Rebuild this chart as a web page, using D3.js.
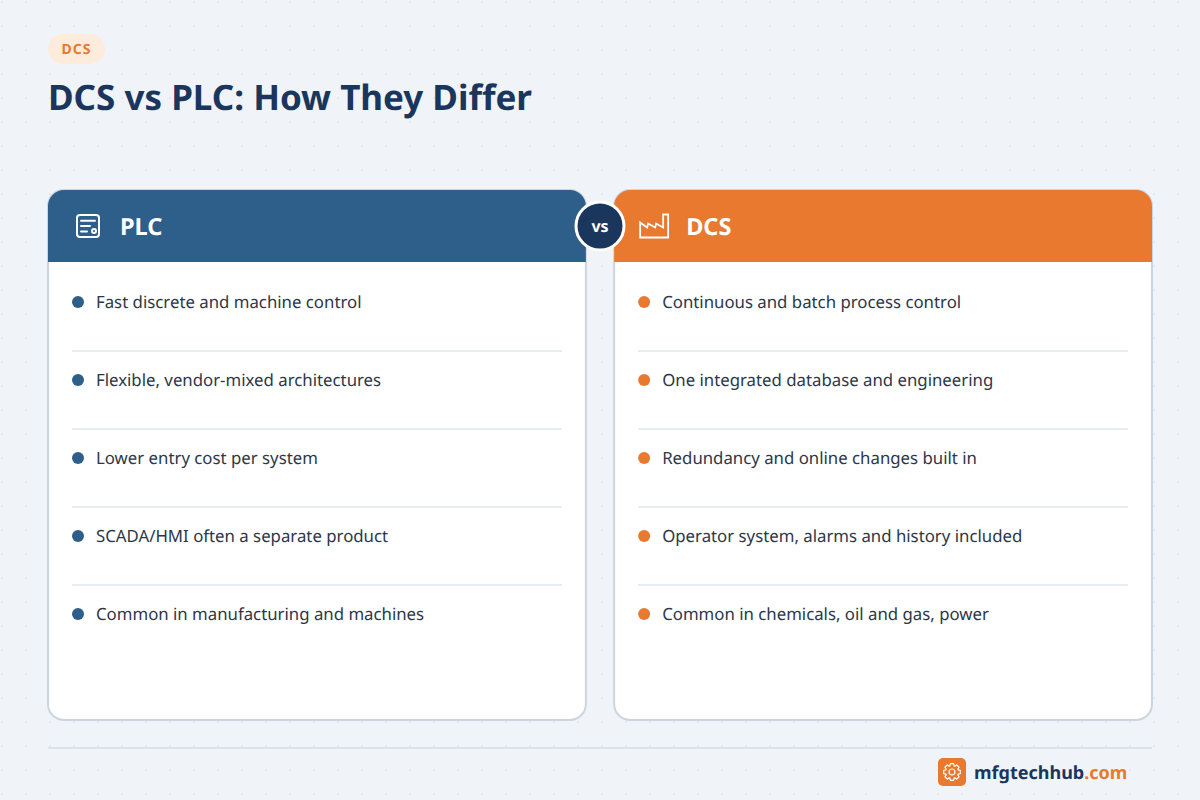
<!DOCTYPE html>
<html>
<head>
<meta charset="utf-8">
<script src="https://cdnjs.cloudflare.com/ajax/libs/d3/7.9.0/d3.min.js"></script>
<style>
  html, body { margin: 0; padding: 0; background: #f0f4f8; }
  svg { display: block; font-family: "Noto Sans", sans-serif; text-rendering: geometricPrecision; }
</style>
</head>
<body>
<svg id="chart" width="1200" height="800"></svg>
<script>
const badge = "DCS";
const title = "DCS vs PLC: How They Differ";
const columns = ["PLC", "DCS"];
const plcItems = [
  "Fast discrete and machine control",
  "Flexible, vendor-mixed architectures",
  "Lower entry cost per system",
  "SCADA/HMI often a separate product",
  "Common in manufacturing and machines"
];
const dcsItems = [
  "Continuous and batch process control",
  "One integrated database and engineering",
  "Redundancy and online changes built in",
  "Operator system, alarms and history included",
  "Common in chemicals, oil and gas, power"
];
const columnColors = ["#2e5f8a", "#e8792f"];

const navy = "#1a365d";
const svg = d3.select("#chart");
const defs = svg.append("defs");

// faint dot grid behind everything
const pat = defs.append("pattern")
  .attr("id", "dots").attr("width", 24).attr("height", 24)
  .attr("patternUnits", "userSpaceOnUse");
pat.append("circle").attr("cx", 2).attr("cy", 2).attr("r", 1).attr("fill", "#dfe6ee");

svg.append("rect").attr("width", 1200).attr("height", 800).attr("fill", "#f0f4f8");
svg.append("rect").attr("width", 1200).attr("height", 800).attr("fill", "url(#dots)");

// badge + title
svg.append("rect").attr("x", 48).attr("y", 34).attr("width", 57).attr("height", 30)
  .attr("rx", 15).attr("fill", "#fdebdc");
svg.append("text").attr("x", 76.5).attr("y", 54).attr("text-anchor", "middle")
  .attr("font-size", 14).attr("font-weight", 700).attr("letter-spacing", 1)
  .attr("fill", "#e8792f").text(badge);
svg.append("text").attr("x", 48).attr("y", 110)
  .attr("font-size", 35).attr("font-weight", 700).attr("fill", navy).text(title);

// layout scales
const xCol = d3.scaleBand().domain(columns).range([48, 1152]).paddingInner(0.05);
const yRow = d3.scaleLinear().domain([0, 1]).range([302, 380]);

const cardTop = 190, cardBottom = 720, headH = 72, r = 16;

function headPath(x, w) {
  return `M${x},${cardTop + headH}V${cardTop + r}A${r},${r} 0 0 1 ${x + r},${cardTop}` +
    `H${x + w - r}A${r},${r} 0 0 1 ${x + w},${cardTop + r}V${cardTop + headH}Z`;
}

function plcIcon(g) {
  g.attr("stroke-width", 2).attr("stroke-linecap", "round").attr("stroke-linejoin", "round");
  g.append("rect").attr("x", -11).attr("y", -11).attr("width", 22).attr("height", 22).attr("rx", 3);
  g.append("path").attr("d", "M-7,-5.3H7M-7,0H2M-7,5.6H-1");
  g.append("circle").attr("cx", 6).attr("cy", 5).attr("r", 2);
}

function dcsIcon(g) {
  g.attr("stroke-width", 1.8).attr("stroke-linejoin", "miter");
  g.append("path").attr("d", "M-14,11V-4L-7,1L-6,-3L1,1L2,-3L9,1V-12H14V11Z");
}

[plcItems, dcsItems].forEach((items, c) => {
  const name = columns[c], color = columnColors[c];
  const x = xCol(name), w = xCol.bandwidth();
  const card = svg.append("g");

  card.append("rect").attr("x", x).attr("y", cardTop).attr("width", w)
    .attr("height", cardBottom - cardTop).attr("rx", r)
    .attr("fill", "#fff").attr("stroke", "#cbd5e0").attr("stroke-width", 2);
  card.append("path").attr("d", headPath(x, w)).attr("fill", color);

  const icon = card.append("g")
    .attr("transform", `translate(${x + 40},${cardTop + headH / 2 + (c === 0 ? 0 : 0.5)})`)
    .attr("fill", "none").attr("stroke", "#fff");
  (c === 0 ? plcIcon : dcsIcon)(icon);

  card.append("text").attr("x", x + 72).attr("y", cardTop + headH / 2 + 9)
    .attr("font-size", 23.5).attr("font-weight", 700).attr("fill", "#fff").text(name);

  const rows = card.selectAll("g.row").data(items).join("g").attr("class", "row")
    .attr("transform", (d, i) => `translate(${x},${yRow(i)})`);
  rows.append("circle").attr("cx", 30).attr("r", 6).attr("fill", color);
  rows.append("text").attr("x", 48).attr("y", 6)
    .attr("font-size", 16.8).attr("fill", "#2d3748").text(d => d);
  rows.filter((d, i) => i < items.length - 1).append("line")
    .attr("x1", 24).attr("x2", w - 24).attr("y1", 49).attr("y2", 49)
    .attr("stroke", "#e8edf2").attr("stroke-width", 2);
});

// vs bubble
svg.append("circle").attr("cx", 600).attr("cy", 226).attr("r", 24)
  .attr("fill", navy).attr("stroke", "#fff").attr("stroke-width", 3);
svg.append("text").attr("x", 600).attr("y", 232).attr("text-anchor", "middle")
  .attr("font-size", 16).attr("font-weight", 700).attr("fill", "#fff").text("vs");

// footer
svg.append("line").attr("x1", 48).attr("x2", 1152).attr("y1", 748).attr("y2", 748)
  .attr("stroke", "#dbe2ea").attr("stroke-width", 2);
svg.append("rect").attr("x", 938).attr("y", 758).attr("width", 28).attr("height", 28)
  .attr("rx", 5).attr("fill", "#e8792f");
const gear = svg.append("g").attr("transform", "translate(952,772)")
  .attr("fill", "none").attr("stroke", "#fff").attr("stroke-width", 1.2).attr("stroke-linejoin", "round");
gear.append("circle").attr("r", 3);
gear.append("path").attr("d", d3.range(8).map(i => {
  const a = i * Math.PI / 4, s = Math.PI / 8;
  const pts = [[a - s * 0.85, 6.5], [a - s * 0.5, 8.5], [a + s * 0.5, 8.5], [a + s * 0.85, 6.5]];
  return pts.map(([t, q]) => `${q * Math.cos(t)},${q * Math.sin(t)}`).join("L");
}).join("L").replace(/^/, "M") + "Z");
const site = svg.append("text").attr("x", 974).attr("y", 779)
  .attr("font-size", 18).attr("font-weight", 700).attr("fill", navy);
site.append("tspan").text("mfgtechhub");
site.append("tspan").attr("fill", "#e8792f").text(".com");
</script>
</body>
</html>
